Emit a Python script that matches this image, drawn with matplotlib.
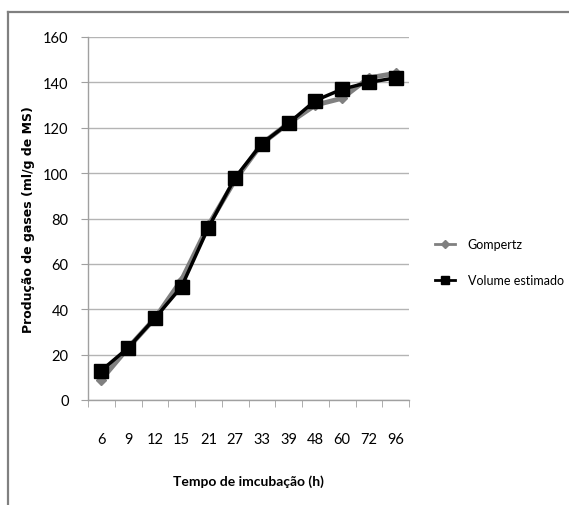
import matplotlib.pyplot as plt
from matplotlib.lines import Line2D
from matplotlib import font_manager

# dados
tempos = ["6", "9", "12", "15", "21", "27", "33", "39", "48", "60", "72", "96"]
gompertz = [9, 23, 36, 53, 77, 97, 113, 122, 130, 133, 142, 144]
volume_estimado = [13, 23, 36, 50, 76, 98, 113, 122, 132, 137, 140, 142]

nomes = {f.name for f in font_manager.fontManager.ttflist}
fonte = "DejaVu Sans"
for f in ["Liberation Sans Narrow", "Lato", "Roboto"]:
    if f in nomes:
        fonte = f
        break
plt.rcParams["font.family"] = [fonte, "DejaVu Sans"]

W, H = 569, 506
fig = plt.figure(figsize=(W / 100, H / 100), dpi=100)
ax = fig.add_axes([88 / W, 1 - 401 / H, (409 - 88) / W, (401 - 38) / H])

x = list(range(len(tempos)))
ax.plot(x, gompertz, color="#808080", lw=3.5, marker="D", ms=5,
        mfc="#808080", mec="#808080", zorder=3)
ax.plot(x, volume_estimado, color="black", lw=2.5, marker="s", ms=10,
        mfc="black", mec="black", zorder=4)

ax.set_xlim(-0.5, len(tempos) - 0.5)
ax.set_ylim(0, 160)
ax.set_yticks(range(0, 161, 20))
ax.set_xticks(x)
ax.set_xticklabels(tempos)
ax.set_xticks([i - 0.5 for i in range(len(tempos) + 1)], minor=True)
ax.tick_params(axis="x", which="major", length=0, pad=23, labelsize=10.5)
ax.tick_params(axis="x", which="minor", length=5, color="#a0a0a0", direction="out")
ax.tick_params(axis="y", length=5, color="#a0a0a0", pad=9, labelsize=10.5)

ax.grid(axis="y", color="#b4b4b4", lw=1)
ax.set_axisbelow(True)
for s in ["top", "right"]:
    ax.spines[s].set_visible(False)
for s in ["left", "bottom"]:
    ax.spines[s].set_color("#a0a0a0")
    ax.spines[s].set_linewidth(1)

ax.set_xlabel("Tempo de imcubação (h)", fontsize=10, fontweight="bold")
ax.xaxis.set_label_coords(0.5, -0.204)
ax.set_ylabel("Produção de gases (ml/g de MS)", fontsize=9, fontweight="bold",
              family="DejaVu Sans")
ax.yaxis.set_label_coords(-0.165, 0.5)

handles = [
    Line2D([], [], color="#808080", lw=2, marker="D", ms=4),
    Line2D([], [], color="black", lw=2, marker="s", ms=6),
]
fig.legend(handles, ["Gompertz", "Volume estimado"], loc="center left",
           bbox_to_anchor=(435 / W, 1 - 263 / H), frameon=False,
           borderpad=0, borderaxespad=0, handlelength=1.6,
           handletextpad=1.0, labelspacing=1.9, fontsize=9)

# moldura cinza do gráfico
fig.add_artist(Line2D([8 / W, 8 / W], [0, 1 - 13 / H], color="#808080", lw=1.6))
fig.add_artist(Line2D([8 / W, 1], [1 - 13 / H, 1 - 13 / H], color="#808080", lw=1.6))

fig.savefig("out.png", dpi=100)
